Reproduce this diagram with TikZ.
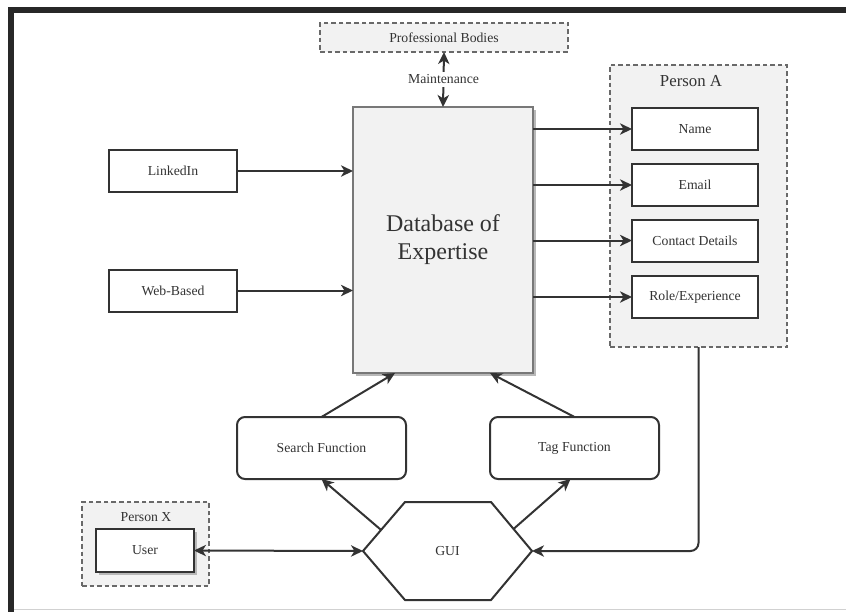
\documentclass[tikz,border=0pt]{standalone}
\usepackage{fontspec}
\setmainfont{Liberation Serif}
\usepackage{tikz}
\usetikzlibrary{
    arrows.meta,
    calc,
    shadows
}
\definecolor{InkGray}{RGB}{51,51,51}
\definecolor{PanelGray}{RGB}{242,242,242}
\definecolor{EdgeGray}{RGB}{120,120,120}
\definecolor{DashGray}{RGB}{105,105,105}
\definecolor{FrameDark}{RGB}{40,40,40}

\begin{document}
\begin{tikzpicture}[
    x=0.75pt,
    y=-0.75pt,
    >={Stealth[length=9pt,width=8.5pt,inset=2.6pt]},
    every node/.style={
        text=InkGray,
        font=\fontsize{10.3}{12}\selectfont
    },
    plainbox/.style={
        draw=InkGray,
        fill=white,
        line width=1.5pt,
        inner sep=0pt,
        outer sep=0pt
    },
    groupbox/.style={
        draw=DashGray,
        fill=PanelGray,
        line width=1.5pt,
        dash pattern=on 3.5pt off 2.2pt,
        inner sep=0pt,
        outer sep=0pt
    },
    funcbox/.style={
        plainbox,
        rounded corners=6pt,
        minimum width=126.75pt,
        minimum height=46.5pt
    },
    fieldbox/.style={
        plainbox,
        minimum width=94.5pt,
        minimum height=31.5pt
    },
    greyshadow/.style={
        drop shadow={shadow xshift=2.5pt,shadow yshift=-2.5pt,fill=black!28,opacity=1}
    },
    conn/.style={
        draw=InkGray,
        line width=1.5pt
    }
]
%
    \useasboundingbox
    (0,0)
    rectangle
    (846,612);
%
    % frame of the screenshot
    \fill[
        FrameDark
    ]
    (8,7)
    rectangle
    (846,12.5);
    \fill[
        FrameDark
    ]
    (8,7)
    rectangle
    (13.5,612);
    \draw[
        black!18,
        line width=0.75pt
    ]
    (14,609.5)
    --
    (846,609.5);
%
    \node[
        groupbox,
        minimum width=186pt,
        minimum height=21.75pt
    ]
    (prof) at (444,37.5) {
        Professional Bodies
    };
%
    \node[
        draw=EdgeGray,
        fill=PanelGray,
        line width=1.5pt,
        minimum width=135pt,
        minimum height=199.5pt,
        inner sep=0pt,
        outer sep=0pt,
        align=center,
        font=\fontsize{18}{21}\selectfont,
        greyshadow
    ]
    (db) at (443,240) {
        Database of\\Expertise
    };
%
    \node[
        groupbox,
        minimum width=132.75pt,
        minimum height=211.5pt
    ]
    (persona) at (698.5,206) {};
    \node[
        font=\fontsize{12.6}{14}\selectfont
    ]
    (personatitle) at (691,81) {
        Person A
    };
%
    \node[fieldbox] (name) at (695,129) {Name};
    \node[fieldbox] (email) at (695,185) {Email};
    \node[fieldbox] (contact) at (695,240.5) {Contact Details};
    \node[fieldbox] (role) at (695,297) {Role/Experience};
%
    \node[
        fieldbox,
        minimum width=96pt
    ]
    (linkedin) at (173,171) {
        LinkedIn
    };
    \node[
        fieldbox,
        minimum width=96pt
    ]
    (webbased) at (173,290.5) {
        Web-Based
    };
%
    \node[funcbox] (search) at (321.5,448) {Search Function};
    \node[funcbox] (tag) at (574.5,448) {Tag Function};
%
    \node[
        groupbox,
        minimum width=95.25pt,
        minimum height=63pt
    ]
    (personx) at (145.5,544) {};
    \node
    (personxtitle) at (146,517) {
        Person X
    };
    \node[
        plainbox,
        minimum width=73.5pt,
        minimum height=32.25pt,
        greyshadow
    ]
    (user) at (145,550.5) {
        User
    };
%
    % hexagon round the GUI text
    \node[
        inner sep=0pt,
        outer sep=0pt,
        minimum width=126.75pt,
        minimum height=73.5pt
    ]
    (gui) at (447.5,551) {
        GUI
    };
    \coordinate (guiNW) at ($(gui.north west)+(42,0)$);
    \coordinate (guiNE) at ($(gui.north east)+(-41,0)$);
    \coordinate (guiSE) at ($(gui.south east)+(-41,0)$);
    \coordinate (guiSW) at ($(gui.south west)+(42,0)$);
    \draw[
        conn,
        line join=miter
    ]
    (gui.west)
    --
    (guiNW)
    --
    (guiNE)
    --
    (gui.east)
    --
    (guiSE)
    --
    (guiSW)
    --
    cycle;
%
    \draw[
        conn,
        <->
    ]
    (prof.south)
    --
    node[
        fill=white,
        inner sep=2.5pt
    ]{
        Maintenance
    }
    (db.north);
%
    \draw[conn,->] (linkedin.east) -- (linkedin.east -| db.west);
    \draw[conn,->] (webbased.east) -- (webbased.east -| db.west);
%
    \foreach \field in {name,email,contact,role}{
        \draw[
            conn,
            ->
        ]
        (db.east |- \field.west)
        --
        (\field.west);
    }
%
    \draw[conn,->] (search.north) -- ([xshift=-36pt]db.south);
    \draw[conn,->] (tag.north) -- ([xshift=35.25pt]db.south);
%
    \draw[conn,->] ($(gui.west)!0.43!(guiNW)$) -- (search.south);
    \draw[conn,->] ($(gui.east)!0.45!(guiNE)$) -- ([xshift=-3pt]tag.south);
%
    \draw[
        conn,
        <->
    ]
    (user.east)
    --
    (gui.west);
%
    \draw[
        conn,
        ->,
        rounded corners=6pt
    ]
    (persona.south)
    |-
    (gui.east);
%
\end{tikzpicture}
\end{document}
